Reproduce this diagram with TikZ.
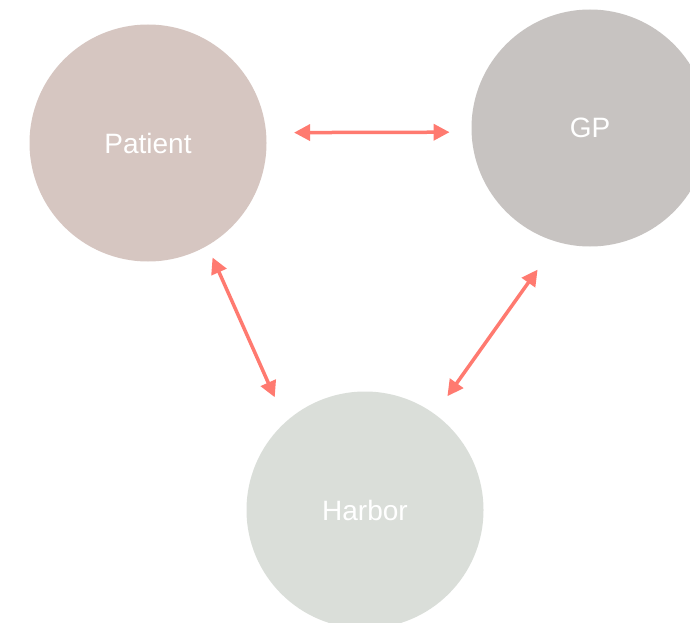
\documentclass[tikz,border=0pt]{standalone}
\usepackage{fontspec}
\setmainfont{Liberation Sans}
\usetikzlibrary{arrows.meta}

\definecolor{patientcol}{HTML}{D6C6C1}
\definecolor{gpcol}{HTML}{C7C3C1}
\definecolor{harborcol}{HTML}{DADED9}
\definecolor{linkcol}{HTML}{FF7A70}

\begin{document}
\begin{tikzpicture}[x=1pt,y=-1pt,
    party/.style={circle,minimum size=237pt,inner sep=0pt,outer sep=0pt,
      text=white,font=\fontsize{28}{34}\selectfont},
    link/.style={draw=linkcol,line width=3.5pt,
      {Triangle[length=16pt,width=16pt]}-{Triangle[length=16pt,width=16pt]}}]
  % Frame
  \useasboundingbox (0,0) rectangle (690,623);
  \clip (0,0) rectangle (690,623);

  % Parties
  \node[party,fill=patientcol] (patient) at (148,143) {Patient};
  \node[party,fill=gpcol] (gp) at (590,128) {GP};
  \node[party,fill=harborcol] (harbor) at (365,510) {Harbor};

  % Links
  \draw[link,shorten <=28pt,shorten >=22pt] (patient.5) -- (gp.182);
  \draw[link,shorten <=13pt,shorten >=27pt] (patient.-60) -- (harbor.132);
  \draw[link,shorten <=34pt,shorten >=22pt] (gp.-106) -- (harbor.54);
\end{tikzpicture}
\end{document}
